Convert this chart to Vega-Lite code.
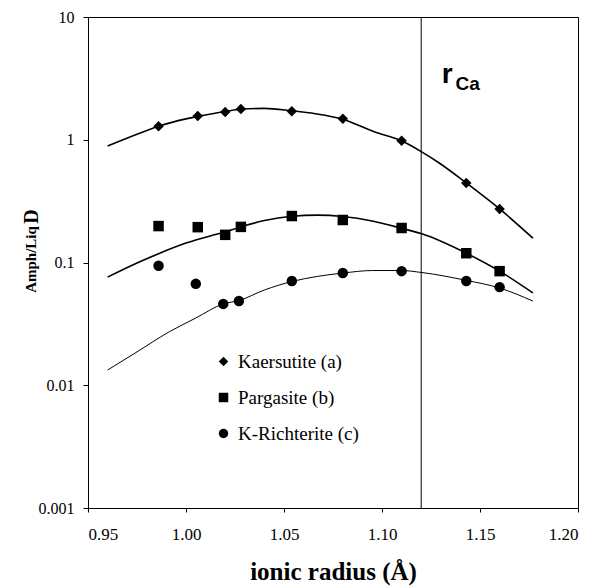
{
  "$schema": "https://vega.github.io/schema/vega-lite/v6.json",
  "autosize": {"type": "none"},
  "width": 490,
  "height": 491,
  "padding": {"left": 88, "top": 17, "right": 17, "bottom": 79},
  "background": "white",
  "config": {
    "font": "Liberation Serif",
    "view": {"stroke": "black", "strokeWidth": 1},
    "axis": {"grid": false, "domainColor": "black", "tickColor": "black", "labelColor": "black", "titleColor": "black", "labelFont": "Liberation Serif", "labelFontSize": 16, "titleFont": "Liberation Serif"},
    "legend": {"labelFont": "Liberation Serif", "labelFontSize": 19, "labelColor": "black"}
  },
  "datasets": {
    "points": [
      {"series": "Kaersutite (a)", "x": 0.986, "y": 1.29},
      {"series": "Kaersutite (a)", "x": 1.006, "y": 1.56},
      {"series": "Kaersutite (a)", "x": 1.020, "y": 1.68},
      {"series": "Kaersutite (a)", "x": 1.028, "y": 1.78},
      {"series": "Kaersutite (a)", "x": 1.054, "y": 1.71},
      {"series": "Kaersutite (a)", "x": 1.080, "y": 1.48},
      {"series": "Kaersutite (a)", "x": 1.110, "y": 0.98},
      {"series": "Kaersutite (a)", "x": 1.143, "y": 0.445},
      {"series": "Kaersutite (a)", "x": 1.160, "y": 0.273},
      {"series": "Pargasite (b)", "x": 0.986, "y": 0.198},
      {"series": "Pargasite (b)", "x": 1.006, "y": 0.194},
      {"series": "Pargasite (b)", "x": 1.020, "y": 0.168},
      {"series": "Pargasite (b)", "x": 1.028, "y": 0.195},
      {"series": "Pargasite (b)", "x": 1.054, "y": 0.239},
      {"series": "Pargasite (b)", "x": 1.080, "y": 0.222},
      {"series": "Pargasite (b)", "x": 1.110, "y": 0.191},
      {"series": "Pargasite (b)", "x": 1.143, "y": 0.119},
      {"series": "Pargasite (b)", "x": 1.160, "y": 0.085},
      {"series": "K-Richterite (c)", "x": 0.986, "y": 0.094},
      {"series": "K-Richterite (c)", "x": 1.005, "y": 0.067},
      {"series": "K-Richterite (c)", "x": 1.019, "y": 0.046},
      {"series": "K-Richterite (c)", "x": 1.027, "y": 0.0485},
      {"series": "K-Richterite (c)", "x": 1.054, "y": 0.0706},
      {"series": "K-Richterite (c)", "x": 1.080, "y": 0.082},
      {"series": "K-Richterite (c)", "x": 1.110, "y": 0.085},
      {"series": "K-Richterite (c)", "x": 1.143, "y": 0.0706},
      {"series": "K-Richterite (c)", "x": 1.160, "y": 0.063}
    ],
    "curves": [
      {"series": "Kaersutite (a)", "x": 0.960, "y": 0.89},
      {"series": "Kaersutite (a)", "x": 0.975, "y": 1.11},
      {"series": "Kaersutite (a)", "x": 0.986, "y": 1.29},
      {"series": "Kaersutite (a)", "x": 1.000, "y": 1.48},
      {"series": "Kaersutite (a)", "x": 1.006, "y": 1.55},
      {"series": "Kaersutite (a)", "x": 1.020, "y": 1.70},
      {"series": "Kaersutite (a)", "x": 1.028, "y": 1.77},
      {"series": "Kaersutite (a)", "x": 1.040, "y": 1.80},
      {"series": "Kaersutite (a)", "x": 1.054, "y": 1.72},
      {"series": "Kaersutite (a)", "x": 1.066, "y": 1.63},
      {"series": "Kaersutite (a)", "x": 1.080, "y": 1.47},
      {"series": "Kaersutite (a)", "x": 1.096, "y": 1.16},
      {"series": "Kaersutite (a)", "x": 1.110, "y": 0.98},
      {"series": "Kaersutite (a)", "x": 1.120, "y": 0.80},
      {"series": "Kaersutite (a)", "x": 1.129, "y": 0.65},
      {"series": "Kaersutite (a)", "x": 1.143, "y": 0.445},
      {"series": "Kaersutite (a)", "x": 1.160, "y": 0.273},
      {"series": "Kaersutite (a)", "x": 1.177, "y": 0.158},
      {"series": "Pargasite (b)", "x": 0.960, "y": 0.076},
      {"series": "Pargasite (b)", "x": 0.975, "y": 0.099},
      {"series": "Pargasite (b)", "x": 0.986, "y": 0.118},
      {"series": "Pargasite (b)", "x": 1.000, "y": 0.144},
      {"series": "Pargasite (b)", "x": 1.020, "y": 0.178},
      {"series": "Pargasite (b)", "x": 1.028, "y": 0.195},
      {"series": "Pargasite (b)", "x": 1.040, "y": 0.22},
      {"series": "Pargasite (b)", "x": 1.054, "y": 0.238},
      {"series": "Pargasite (b)", "x": 1.067, "y": 0.243},
      {"series": "Pargasite (b)", "x": 1.080, "y": 0.237},
      {"series": "Pargasite (b)", "x": 1.095, "y": 0.218},
      {"series": "Pargasite (b)", "x": 1.110, "y": 0.19},
      {"series": "Pargasite (b)", "x": 1.120, "y": 0.172},
      {"series": "Pargasite (b)", "x": 1.143, "y": 0.119},
      {"series": "Pargasite (b)", "x": 1.160, "y": 0.085},
      {"series": "Pargasite (b)", "x": 1.177, "y": 0.0565},
      {"series": "K-Richterite (c)", "x": 0.960, "y": 0.0133},
      {"series": "K-Richterite (c)", "x": 0.975, "y": 0.0187},
      {"series": "K-Richterite (c)", "x": 0.991, "y": 0.027},
      {"series": "K-Richterite (c)", "x": 1.005, "y": 0.0353},
      {"series": "K-Richterite (c)", "x": 1.019, "y": 0.046},
      {"series": "K-Richterite (c)", "x": 1.027, "y": 0.049},
      {"series": "K-Richterite (c)", "x": 1.040, "y": 0.0597},
      {"series": "K-Richterite (c)", "x": 1.054, "y": 0.070},
      {"series": "K-Richterite (c)", "x": 1.067, "y": 0.077},
      {"series": "K-Richterite (c)", "x": 1.080, "y": 0.082},
      {"series": "K-Richterite (c)", "x": 1.095, "y": 0.086},
      {"series": "K-Richterite (c)", "x": 1.110, "y": 0.086},
      {"series": "K-Richterite (c)", "x": 1.120, "y": 0.083},
      {"series": "K-Richterite (c)", "x": 1.143, "y": 0.0715},
      {"series": "K-Richterite (c)", "x": 1.160, "y": 0.062},
      {"series": "K-Richterite (c)", "x": 1.177, "y": 0.0485}
    ]
  },
  "layer": [
    {
      "layer": [
        {
          "data": {"name": "curves"},
          "transform": [{"filter": "datum.series !== 'K-Richterite (c)'"}],
          "mark": {"type": "line", "interpolate": "monotone", "color": "black", "strokeWidth": 1.6},
          "encoding": {
            "x": {"field": "x", "type": "quantitative", "scale": {"domain": [0.95, 1.2], "nice": false, "zero": false},
              "axis": {"values": [0.95, 1.0, 1.05, 1.1, 1.15, 1.2], "format": ".2f", "tickSize": 4, "labelPadding": 14, "labelFontSize": 17,
                "title": "ionic radius (Å)", "titleFontSize": 25, "titleFontWeight": "bold", "titleBaseline": "alphabetic", "titleY": 71}},
            "y": {"field": "y", "type": "quantitative", "scale": {"type": "log", "domain": [0.001, 10], "nice": false},
              "axis": {"values": [0.001, 0.01, 0.1, 1, 10], "format": "~g", "tickSize": 5, "labelPadding": 9, "labelFontSize": 16,
                "title": "Amph/Liq", "titleFontSize": 15, "titleFontWeight": "bold", "titleAngle": 270, "titleBaseline": "alphabetic", "titleAlign": "center", "titleX": -53, "titleY": 242}},
            "detail": {"field": "series"}
          }
        },
        {
          "data": {"name": "curves"},
          "transform": [{"filter": "datum.series === 'K-Richterite (c)'"}],
          "mark": {"type": "line", "interpolate": "monotone", "color": "black", "strokeWidth": 1.0},
          "encoding": {
            "x": {"field": "x", "type": "quantitative"},
            "y": {"field": "y", "type": "quantitative"}
          }
        },
        {
          "data": {"name": "points"},
          "mark": {"type": "point", "filled": true, "color": "black", "opacity": 1, "size": 110},
          "encoding": {
            "x": {"field": "x", "type": "quantitative"},
            "y": {"field": "y", "type": "quantitative"},
            "shape": {"field": "series", "type": "nominal",
              "scale": {"domain": ["Kaersutite (a)", "Pargasite (b)", "K-Richterite (c)"], "range": ["diamond", "square", "circle"]},
              "legend": {"title": null, "orient": "none", "legendX": 126, "legendY": 335, "labelFont": "Liberation Serif", "labelFontSize": 19, "labelColor": "black", "symbolFillColor": "black", "symbolStrokeColor": "black", "symbolSize": 90, "labelOffset": 5, "rowPadding": 16, "padding": 0}}
          }
        },
        {
          "data": {"values": [{"x": 1.12}]},
          "mark": {"type": "rule", "color": "black", "strokeWidth": 1},
          "encoding": {"x": {"field": "x", "type": "quantitative"}}
        },
        {
          "data": {"values": [{"label": "r", "x": 1.1305, "y": 2.9}]},
          "mark": {"type": "text", "font": "Liberation Sans", "fontWeight": "bold", "fontSize": 28, "align": "left", "baseline": "alphabetic", "color": "black"},
          "encoding": {"x": {"field": "x", "type": "quantitative"}, "y": {"field": "y", "type": "quantitative"}, "text": {"field": "label"}}
        },
        {
          "data": {"values": [{"label": "Ca", "x": 1.1375, "y": 2.54}]},
          "mark": {"type": "text", "font": "Liberation Sans", "fontWeight": "bold", "fontSize": 19, "align": "left", "baseline": "alphabetic", "color": "black"},
          "encoding": {"x": {"field": "x", "type": "quantitative"}, "y": {"field": "y", "type": "quantitative"}, "text": {"field": "label"}}
        }
      ]
    },
    {
      "data": {"values": [{"y": 1}]},
      "mark": {"type": "point", "opacity": 0},
      "encoding": {
        "y": {"field": "y", "type": "quantitative",
          "axis": {"orient": "left", "domain": false, "ticks": false, "labels": false, "grid": false,
            "title": "D", "titleFont": "Liberation Serif", "titleFontSize": 20, "titleFontWeight": "bold", "titleAngle": 270, "titleBaseline": "alphabetic", "titleAlign": "center", "titleX": -51, "titleY": 199}}
      }
    }
  ],
  "resolve": {"axis": {"y": "independent"}}
}
